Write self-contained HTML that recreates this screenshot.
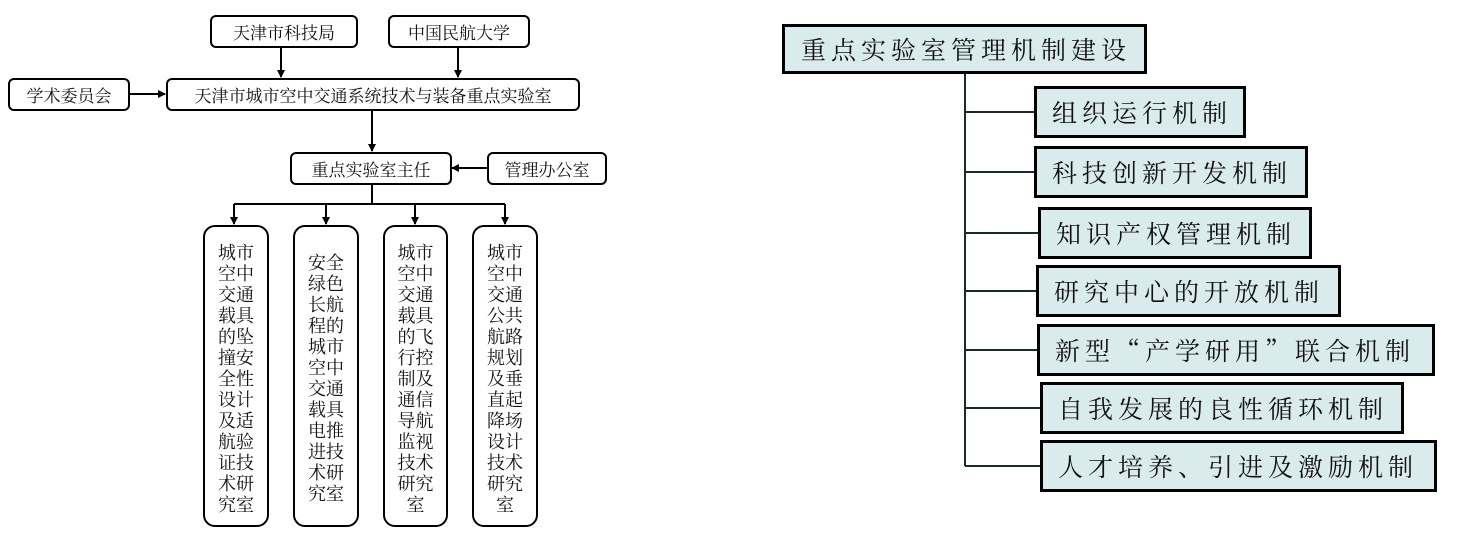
<!DOCTYPE html>
<html><head><meta charset="utf-8">
<style>
body{margin:0;width:1457px;height:542px;background:#fff;position:relative;overflow:hidden;font-family:"Liberation Serif","Noto Serif CJK SC",serif;}
.b{position:absolute;box-sizing:border-box;border:2.5px solid #000;border-radius:6px;background:#fff;display:flex;align-items:center;justify-content:center;font-size:17px;color:#111;white-space:nowrap;}
.c{position:absolute;box-sizing:border-box;border:2.5px solid #000;border-radius:12px;background:#fff;font-size:18px;color:#111;text-align:center;}
.c div{position:absolute;left:0;right:0;}
.r{position:absolute;box-sizing:border-box;border:3.5px solid #000;background:#d9ebec;font-family:"Noto Serif CJK SC","WenQuanYi Zen Hei",serif;font-size:25px;color:#111;letter-spacing:5px;padding-left:15px;display:flex;align-items:center;white-space:nowrap;}
svg{position:absolute;left:0;top:0;}
</style></head><body>
<svg width="1457" height="542">
<defs><marker id="a" markerWidth="8" markerHeight="8" refX="7" refY="4" orient="auto" markerUnits="userSpaceOnUse"><path d="M0,0 L8,4 L0,8 z" fill="#000"/></marker></defs>
<g stroke="#000" stroke-width="2" fill="none">
<line x1="281" y1="47" x2="281" y2="77" marker-end="url(#a)"/>
<line x1="458" y1="47" x2="458" y2="77" marker-end="url(#a)"/>
<line x1="129" y1="94" x2="165" y2="94" marker-end="url(#a)"/>
<line x1="372" y1="110" x2="372" y2="151" marker-end="url(#a)"/>
<line x1="487" y1="168" x2="452" y2="168" marker-end="url(#a)"/>
<line x1="372" y1="184" x2="372" y2="204"/>
<line x1="234" y1="204" x2="505" y2="204"/>
<line x1="234" y1="204" x2="234" y2="224" marker-end="url(#a)"/>
<line x1="326" y1="204" x2="326" y2="224" marker-end="url(#a)"/>
<line x1="415" y1="204" x2="415" y2="224" marker-end="url(#a)"/>
<line x1="505" y1="204" x2="505" y2="224" marker-end="url(#a)"/>
</g>
<g stroke="#1a2a2a" stroke-width="2" fill="none">
<line x1="965" y1="73" x2="965" y2="466"/>
<line x1="965" y1="112" x2="1036" y2="112"/>
<line x1="965" y1="172" x2="1036" y2="172"/>
<line x1="965" y1="233" x2="1040" y2="233"/>
<line x1="965" y1="291" x2="1037" y2="291"/>
<line x1="965" y1="350" x2="1038" y2="350"/>
<line x1="965" y1="408" x2="1041" y2="408"/>
<line x1="965" y1="466" x2="1041" y2="466"/>
</g>
</svg>
<div class="b" style="left:210px;top:15px;width:148px;height:33px">天津市科技局</div>
<div class="b" style="left:388px;top:15px;width:142px;height:33px">中国民航大学</div>
<div class="b" style="left:8px;top:78px;width:122px;height:33px">学术委员会</div>
<div class="b" style="left:166px;top:78px;width:414px;height:33px">天津市城市空中交通系统技术与装备重点实验室</div>
<div class="b" style="left:290px;top:152px;width:162px;height:33px">重点实验室主任</div>
<div class="b" style="left:487px;top:152px;width:120px;height:33px">管理办公室</div>

<div class="c" style="left:203px;top:225px;width:66px;height:302px">
<div style="top:16px;line-height:21px">城市<br>空中<br>交通<br>载具<br>的坠<br>撞安<br>全性<br>设计<br>及适<br>航验<br>证技<br>术研<br>究室</div></div>
<div class="c" style="left:293px;top:225px;width:66px;height:302px">
<div style="top:26px;line-height:21px">安全<br>绿色<br>长航<br>程的<br>城市<br>空中<br>交通<br>载具<br>电推<br>进技<br>术研<br>究室</div></div>
<div class="c" style="left:383px;top:225px;width:65px;height:302px">
<div style="top:16px;line-height:21px">城市<br>空中<br>交通<br>载具<br>的飞<br>行控<br>制及<br>通信<br>导航<br>监视<br>技术<br>研究<br>室</div></div>
<div class="c" style="left:472px;top:225px;width:66px;height:302px">
<div style="top:16px;line-height:21px">城市<br>空中<br>交通<br>公共<br>航路<br>规划<br>及垂<br>直起<br>降场<br>设计<br>技术<br>研究<br>室</div></div>

<div class="r" style="left:782px;top:24px;width:365px;height:50px;padding-left:16px">重点实验室管理机制建设</div>
<div class="r" style="left:1034px;top:86px;width:212px;height:52px">组织运行机制</div>
<div class="r" style="left:1034px;top:146px;width:274px;height:52px">科技创新开发机制</div>
<div class="r" style="left:1038px;top:207px;width:274px;height:52px">知识产权管理机制</div>
<div class="r" style="left:1036px;top:265px;width:305px;height:52px">研究中心的开放机制</div>
<div class="r" style="left:1037px;top:324px;width:398px;height:52px">新型“产学研用”联合机制</div>
<div class="r" style="left:1040px;top:382px;width:364px;height:52px">自我发展的良性循环机制</div>
<div class="r" style="left:1040px;top:440px;width:397px;height:52px">人才培养、引进及激励机制</div>
</body></html>
